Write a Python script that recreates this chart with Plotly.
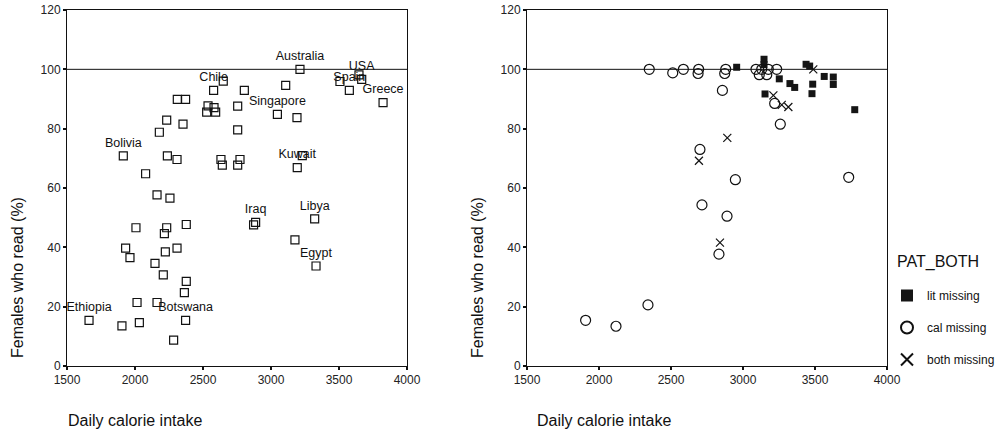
import plotly.graph_objects as go

# ---------------- data (left panel) ----------------
left_cal = [3213, 3108, 3647, 3667, 3507, 3576, 3824, 2649, 2578, 2804, 2311, 2372, 2537, 2581,
            2527, 2593, 2755, 3047, 3191, 2233, 2353, 2179, 2755, 1914, 2238, 2309, 2632, 2642,
            2772, 2755, 3230, 3193, 2078, 2162, 2257, 2887, 2872, 3321, 3176, 3331, 2007, 2233,
            2377, 2216, 1931, 2223, 2309, 1963, 2147, 2208, 2377, 2363, 2015, 2162, 1662, 1904,
            2032, 2372, 2284]
left_lit = [100, 94.6, 98.1, 96.6, 95.9, 92.9, 88.8, 96, 92.9, 92.9, 89.9, 89.9, 87.7, 87.1,
            85.6, 85.6, 87.6, 84.8, 83.7, 82.9, 81.5, 78.8, 79.6, 70.8, 70.8, 69.6, 69.6, 67.7,
            69.6, 67.7, 70.9, 66.9, 64.8, 57.7, 56.6, 48.4, 47.6, 49.6, 42.5, 33.7, 46.6, 46.6,
            47.7, 44.6, 39.7, 38.5, 39.7, 36.5, 34.6, 30.7, 28.5, 24.7, 21.4, 21.4, 15.4, 13.5,
            14.6, 15.4, 8.7]
left_label = ["Australia", "", "", "USA", "", "Spain", "Greece", "", "Chile", "", "", "", "", "",
              "", "", "", "Singapore", "", "", "", "", "", "Bolivia", "", "", "", "",
              "", "", "", "Kuwait", "", "", "", "Iraq", "", "Libya", "", "Egypt", "", "",
              "", "", "", "", "", "", "", "", "", "", "", "", "Ethiopia", "",
              "", "Botswana", ""]

# ---------------- data (right panel) ----------------
lit_missing_cal = [2956, 3146, 3146, 3153, 3252, 3326, 3359, 3438, 3463, 3484, 3479, 3564, 3627, 3627, 3776]
lit_missing_lit = [100.7, 103.4, 101.6, 91.7, 96.8, 95.2, 93.9, 101.7, 101.1, 95.0, 91.8, 97.6, 97.4, 94.9, 86.4]

cal_missing_cal = [2349, 2512, 2586, 2692, 2688, 2880, 2873, 2857, 3090, 3130, 3176, 3234, 3113, 3165,
                   3220, 3259, 2701, 2947, 3734, 2715, 2889, 2833, 2340, 1907, 2118]
cal_missing_lit = [100, 98.8, 100, 100, 98.6, 100, 98.6, 92.9, 100, 100, 100, 100, 98.2, 98.2,
                   88.5, 81.5, 73, 62.8, 63.6, 54.3, 50.5, 37.7, 20.6, 15.4, 13.4]

both_missing_cal = [2840, 2694, 2891, 3211, 3269, 3315, 3488]
both_missing_lit = [41.6, 69.2, 76.9, 91.2, 88.0, 87.3, 100]

x_ticks = [1500, 2000, 2500, 3000, 3500, 4000]
y_ticks = [0, 20, 40, 60, 80, 100, 120]
ref_value = 100
legend_title = "PAT_BOTH"

FONT = "Arial, 'Liberation Sans', sans-serif"

fig = go.Figure()

fig.add_trace(go.Scatter(
    x=left_cal, y=left_lit, text=left_label, mode="markers+text",
    textposition="top center", textfont=dict(family=FONT, size=12.5, color="#111"),
    marker=dict(symbol="square-open", size=8, color="#111", line=dict(width=1.2, color="#111")),
    showlegend=False, xaxis="x", yaxis="y", cliponaxis=False))

fig.add_trace(go.Scatter(
    x=lit_missing_cal, y=lit_missing_lit, mode="markers", name="lit missing",
    marker=dict(symbol="square", size=7, color="#151515", line=dict(width=0)),
    xaxis="x2", yaxis="y2", legendgroup="a"))
fig.add_trace(go.Scatter(
    x=cal_missing_cal, y=cal_missing_lit, mode="markers", name="cal missing",
    marker=dict(symbol="circle-open", size=10, color="#111", line=dict(width=1.2, color="#111")),
    xaxis="x2", yaxis="y2", legendgroup="b"))
fig.add_trace(go.Scatter(
    x=both_missing_cal, y=both_missing_lit, mode="markers", name="both missing",
    marker=dict(symbol="x-thin-open", size=8, color="#111", line=dict(width=1.2, color="#111")),
    xaxis="x2", yaxis="y2", legendgroup="c"))

axis_common = dict(showline=True, linecolor="#111", linewidth=1, mirror=True,
                   ticks="outside", ticklen=3, tickwidth=2, tickcolor="#111",
                   showgrid=False, zeroline=False,
                   tickfont=dict(family=FONT, size=12, color="#222"))

fig.update_layout(
    width=1001, height=431,
    margin=dict(l=67, r=114, t=10, b=65, autoexpand=False),
    paper_bgcolor="white", plot_bgcolor="white",
    xaxis=dict(domain=[0, 340 / 820], range=[1500, 4000], tickvals=x_ticks, anchor="y", **axis_common),
    yaxis=dict(domain=[0, 1], range=[0, 120], tickvals=y_ticks, anchor="x", **axis_common),
    xaxis2=dict(domain=[460 / 820, 1], range=[1500, 4000], tickvals=x_ticks, anchor="y2", **axis_common),
    yaxis2=dict(domain=[0, 1], range=[0, 120], tickvals=y_ticks, anchor="x2", **axis_common),
    legend=dict(x=(887 - 67) / 820, xanchor="left", y=(366 - 281) / 356, yanchor="top",
                font=dict(family=FONT, size=12, color="#111"),
                tracegroupgap=13, itemsizing="constant", bgcolor="rgba(0,0,0,0)"),
    shapes=[
        dict(type="line", xref="x domain", yref="y", x0=0, x1=1, y0=ref_value, y1=ref_value,
             line=dict(color="#111", width=1)),
        dict(type="line", xref="x2 domain", yref="y2", x0=0, x1=1, y0=ref_value, y1=ref_value,
             line=dict(color="#111", width=1)),
    ],
    annotations=[
        dict(text="Females who read (%)", textangle=-90, xref="paper", yref="paper",
             x=(17 - 67) / 820, y=(366 - 278) / 356, xanchor="center", yanchor="middle",
             showarrow=False, font=dict(family=FONT, size=16, color="#111")),
        dict(text="Females who read (%)", textangle=-90, xref="paper", yref="paper",
             x=(477 - 67) / 820, y=(366 - 278) / 356, xanchor="center", yanchor="middle",
             showarrow=False, font=dict(family=FONT, size=16, color="#111")),
        dict(text="Daily calorie intake", xref="paper", yref="paper",
             x=(66 - 67) / 820, y=(366 - 420) / 356, xanchor="left", yanchor="middle",
             showarrow=False, font=dict(family=FONT, size=16, color="#111")),
        dict(text="Daily calorie intake", xref="paper", yref="paper",
             x=(535 - 67) / 820, y=(366 - 420) / 356, xanchor="left", yanchor="middle",
             showarrow=False, font=dict(family=FONT, size=16, color="#111")),
        dict(text=legend_title, xref="paper", yref="paper",
             x=(895 - 67) / 820, y=(366 - 262) / 356, xanchor="left", yanchor="middle",
             showarrow=False, font=dict(family=FONT, size=16, color="#111")),
    ],
)

fig.write_html("out.html", config={"displayModeBar": False},
               post_script="document.body.style.margin='0';document.body.style.overflow='hidden';")
